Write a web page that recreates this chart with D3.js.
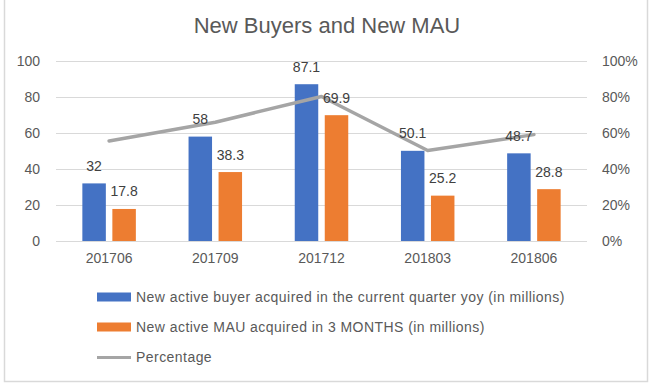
<!DOCTYPE html>
<html>
<head>
<meta charset="utf-8">
<script src="https://cdn.jsdelivr.net/npm/d3@7"></script>
<style>
html,body{margin:0;padding:0;background:#fff;}
svg{display:block;}
text{font-family:"Liberation Sans",Arial,sans-serif;fill:#595959;}
</style>
</head>
<body>
<svg id="chart" width="650" height="392"></svg>
<script>
const categories = ["201706","201709","201712","201803","201806"];
const newBuyers = [32, 58, 87.1, 50.1, 48.7];
const newMAU = [17.8, 38.3, 69.9, 25.2, 28.8];
const percentage = [0.556, 0.660, 0.803, 0.503, 0.591];
const leftTicks = [0,20,40,60,80,100];
const rightTicks = [0,0.2,0.4,0.6,0.8,1.0];
const seriesNames = ["New active buyer acquired in the current quarter yoy (in millions)",
                     "New active MAU acquired in 3 MONTHS (in millions)",
                     "Percentage"];
const colors = ["#4472C4","#ED7D31","#A5A5A5"];

const svg = d3.select("#chart");
// chart border
svg.append("rect").attr("x",4.5).attr("y",-2).attr("width",643).attr("height",383.5)
  .attr("fill","none").attr("stroke","#D9D9D9").attr("stroke-width",1.5);

svg.append("text").attr("x",327).attr("y",33).attr("text-anchor","middle")
  .style("font-size","22px").style("fill","#595959").text("New Buyers and New MAU");

const pL = 56, pR = 587, pT = 61, pB = 241;
const x0 = d3.scaleBand().domain(categories).range([pL,pR]).padding(0);
const x1 = d3.scaleBand().domain([0,1])
  .range([x0.bandwidth()/2 - 26.75, x0.bandwidth()/2 + 26.75]).paddingInner(0.217);
const y = d3.scaleLinear().domain([0,100]).range([pB,pT]);
const y2 = d3.scaleLinear().domain([0,1]).range([pB,pT]);

// gridlines
svg.append("g").selectAll("line").data(leftTicks).join("line")
  .attr("x1",pL).attr("x2",pR)
  .attr("y1",d=>Math.round(y(d))+0.5).attr("y2",d=>Math.round(y(d))+0.5)
  .attr("stroke","#D9D9D9").attr("stroke-width",1);

// left axis
const yAxis = svg.append("g").attr("transform",`translate(${pL},0)`)
  .call(d3.axisLeft(y).tickValues(leftTicks).tickSize(0).tickPadding(16));
yAxis.select(".domain").remove();
yAxis.attr("font-family",null).attr("font-size",null);
yAxis.selectAll("text").style("font-size","14px").style("fill","#595959");

// right axis
const y2Axis = svg.append("g").attr("transform",`translate(${pR},0)`)
  .call(d3.axisRight(y2).tickValues(rightTicks).tickSize(0).tickPadding(15).tickFormat(d3.format(".0%")));
y2Axis.select(".domain").remove();
y2Axis.attr("font-family",null).attr("font-size",null);
y2Axis.selectAll("text").style("font-size","14px").style("fill","#595959");

// x axis
const xAxis = svg.append("g").attr("transform",`translate(0,${pB})`)
  .call(d3.axisBottom(x0).tickSize(0).tickPadding(12));
xAxis.select(".domain").remove();
xAxis.attr("font-family",null).attr("font-size",null);
xAxis.selectAll("text").style("font-size","14px").style("fill","#595959");

// bars
const seriesVals = [newBuyers, newMAU];
seriesVals.forEach((vals, si) => {
  const g = svg.append("g");
  g.selectAll("rect").data(vals).join("rect")
    .attr("x",(d,i)=>x0(categories[i]) + x1(si))
    .attr("y",d=>y(d))
    .attr("width",x1.bandwidth())
    .attr("height",d=>pB - y(d))
    .attr("fill",colors[si]);
});

// line
const line = d3.line().x((d,i)=>x0(categories[i]) + x0.bandwidth()/2).y(d=>y2(d));
svg.append("path").datum(percentage).attr("d",line)
  .attr("fill","none").attr("stroke",colors[2]).attr("stroke-width",3.5)
  .attr("stroke-linejoin","round").attr("stroke-linecap","round");

// labels
seriesVals.forEach((vals, si) => {
  svg.append("g").selectAll("text").data(vals).join("text")
    .attr("x",(d,i)=>x0(categories[i]) + x1(si) + x1.bandwidth()/2)
    .attr("y",d=>y(d) - 12.5)
    .attr("text-anchor","middle")
    .style("font-size","14px").style("fill","#404040")
    .text(d=>d);
});

// legend
const lg = svg.append("g");
const ly = [297, 327, 357];
seriesNames.forEach((name, i) => {
  if (i < 2) {
    lg.append("rect").attr("x",97).attr("y",ly[i]-4.5).attr("width",34).attr("height",9).attr("fill",colors[i]);
  } else {
    lg.append("line").attr("x1",97).attr("x2",131).attr("y1",ly[i]+0.5).attr("y2",ly[i]+0.5)
      .attr("stroke",colors[2]).attr("stroke-width",3);
  }
  lg.append("text").attr("x",136).attr("y",ly[i]+5)
    .style("font-size","14px").style("letter-spacing","0.45px").style("fill","#595959").text(name);
});
</script>
</body>
</html>
